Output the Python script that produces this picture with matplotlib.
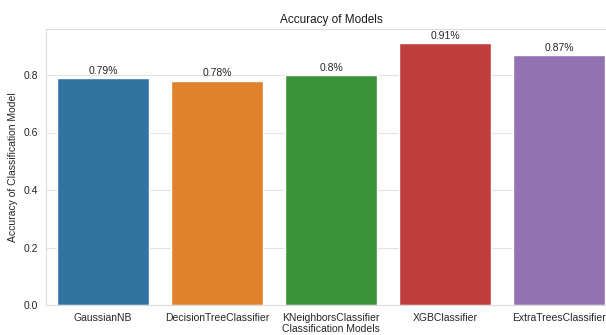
import numpy as np
import matplotlib
matplotlib.use('Agg')
import matplotlib.pyplot as plt
import seaborn as sns

# Model accuracy scores ==========================
models   = ['GaussianNB', 'DecisionTreeClassifier', 'KNeighborsClassifier',
            'XGBClassifier', 'ExtraTreesClassifier']
accuracy = [0.79, 0.78, 0.80, 0.91, 0.87]
labels   = ['0.79%', '0.78%', '0.8%', '0.91%', '0.87%']

sns.set_style('whitegrid', {'grid.color': '#e3e3e3', 'axes.edgecolor': '#dcdcdc'})
plt.rcParams['font.family'] = ['Liberation Sans', 'DejaVu Sans']

fig = plt.figure(figsize=(6.06, 3.35), dpi=100)
ax  = fig.add_axes([46/606, 30/335, 570/606, 276/335])

sns.barplot(x=models, y=accuracy, hue=models, palette='tab10', saturation=0.75,
            legend=False, ax=ax)

for i, (val, lab) in enumerate(zip(accuracy, labels)):
    ax.text(i, val + 0.008, lab, ha='center', va='bottom', fontsize=7.5, color='#262626')

ax.set_xlim(-0.5, 4.5)
ax.set_ylim(0, 0.96)
ax.set_yticks([0.0, 0.2, 0.4, 0.6, 0.8])
ax.tick_params(axis='both', labelsize=7.5, pad=2, colors='#262626')
ax.set_title('Accuracy of Models', fontsize=8.5, pad=4, color='#1a1a1a')
ax.set_xlabel('Classification Models', fontsize=7.5, labelpad=1, color='#262626')
ax.set_ylabel('Accuracy of Classification Model', fontsize=7.5, labelpad=4, color='#262626')

fig.savefig('out.png', dpi=100)
